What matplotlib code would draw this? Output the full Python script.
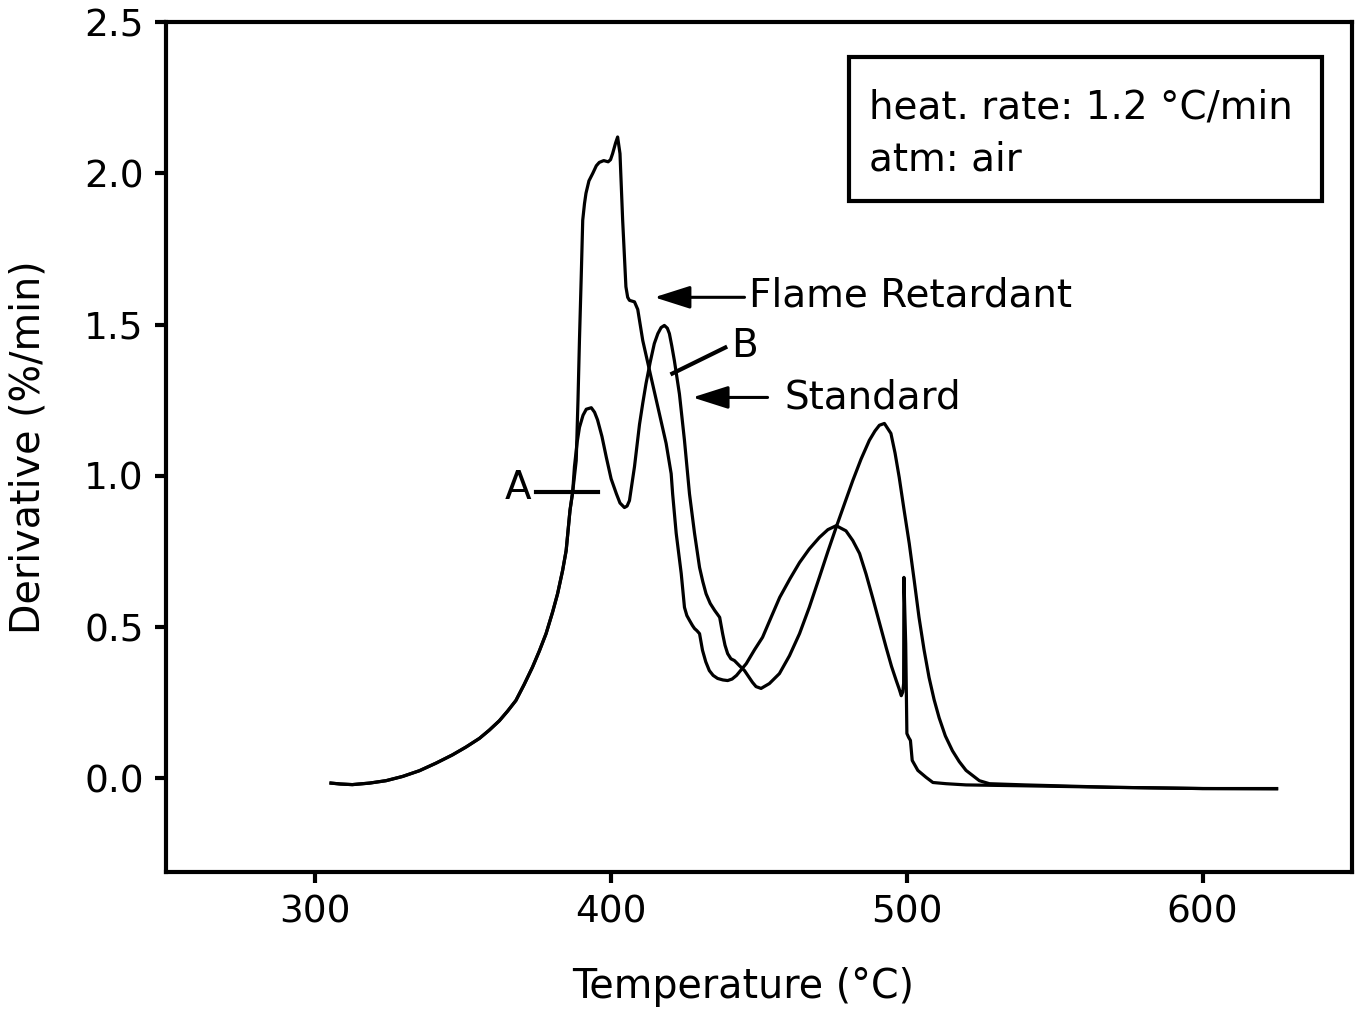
import matplotlib as mpl
mpl.use('Agg')
import matplotlib.pyplot as plt
from matplotlib.patches import Rectangle

# shared rising edge (both samples overlap up to ~387 C)
t_shared = [305.3, 308.5, 312.5, 318.3, 323.9, 329.5, 335.2, 340.8, 346.3, 350.9,
            355.5, 358.8, 362.2, 365.0, 367.8, 370.6, 373.4, 375.7, 378.0, 380.2,
            381.9, 383.6, 384.8, 386.1, 387.0]
d_shared = [-0.016, -0.019, -0.021, -0.016, -0.008, 0.006, 0.025, 0.05, 0.077, 0.103,
            0.132, 0.159, 0.19, 0.222, 0.257, 0.31, 0.367, 0.42, 0.478, 0.549,
            0.61, 0.687, 0.753, 0.886, 0.946]

# flame retardant sample
t_fr = [388.2, 388.8, 389.3, 389.9, 390.4, 391.0, 391.5, 392.5, 393.8, 395.0,
        396.0, 397.5, 399.0, 399.8, 400.5, 401.5, 402.2, 403.0, 403.9, 405.0,
        405.6, 406.2, 407.9, 409.0, 410.7, 413.5, 416.3, 418.6, 420.3, 420.8,
        422.0, 423.7, 424.8, 425.6, 426.5, 427.5, 428.2, 429.0, 429.9, 430.9,
        432.0, 433.2, 434.5, 436.0, 437.8, 439.4, 440.9, 442.4, 445.7, 448.5,
        451.2, 454.0, 457.0, 460.5, 463.7, 467.0, 470.4, 473.3, 476.1, 479.4,
        481.7, 484.0, 486.2, 488.4, 490.7, 493.0, 494.8, 496.4, 497.4, 498.1,
        498.6, 498.9, 499.0, 499.3, 499.6, 500.0, 500.6, 501.2, 501.8, 503.7,
        506.5, 508.8, 513.3, 520.0, 540.0, 570.0, 600.0, 625.0]
d_fr = [1.05, 1.25, 1.45, 1.66, 1.845, 1.9, 1.934, 1.975, 2.0, 2.025,
        2.036, 2.042, 2.038, 2.045, 2.065, 2.10, 2.12, 2.065, 1.845, 1.625,
        1.59, 1.58, 1.575, 1.55, 1.447, 1.326, 1.206, 1.107, 1.007, 0.94,
        0.81, 0.677, 0.565, 0.538, 0.522, 0.505, 0.495, 0.488, 0.478, 0.423,
        0.385, 0.356, 0.34, 0.33, 0.325, 0.323, 0.328, 0.34, 0.379, 0.425,
        0.466, 0.53, 0.598, 0.66, 0.713, 0.758, 0.796, 0.822, 0.835, 0.818,
        0.786, 0.743, 0.675, 0.598, 0.515, 0.432, 0.37, 0.323, 0.295, 0.273,
        0.285, 0.313, 0.664, 0.55, 0.445, 0.148, 0.135, 0.125, 0.059, 0.026,
        0.003, -0.014, -0.018, -0.022, -0.025, -0.03, -0.034, -0.034]

# standard sample
t_std = [387.6, 388.5, 389.3, 390.5, 391.6, 393.3, 394.4, 395.4, 396.9, 398.4,
         400.0, 401.8, 403.0, 404.5, 405.4, 406.2, 407.9, 409.6, 410.7, 411.8,
         413.2, 414.6, 415.8, 416.9, 418.0, 419.0, 419.7, 420.5, 421.4, 423.1,
         424.8, 426.5, 428.2, 429.9, 431.0, 432.1, 433.5, 435.0, 436.7, 437.7,
         438.5, 439.4, 440.5, 441.7, 443.4, 445.1, 447.8, 449.0, 450.7, 453.5,
         456.9, 460.3, 463.7, 467.0, 470.4, 473.3, 476.1, 479.0, 481.7, 484.5,
         487.3, 489.2, 490.7, 492.4, 494.6, 496.0, 497.4, 499.0, 500.8, 502.5,
         504.1, 505.8, 507.5, 509.2, 510.9, 513.0, 515.4, 517.7, 520.0, 524.5,
         527.9, 540.0, 570.0, 600.0, 625.0]
d_std = [1.03, 1.11, 1.16, 1.20, 1.22, 1.225, 1.21, 1.185, 1.13, 1.06,
         0.99, 0.94, 0.91, 0.895, 0.9, 0.918, 1.03, 1.17, 1.24, 1.305,
         1.375, 1.437, 1.47, 1.49, 1.497, 1.488, 1.47, 1.43, 1.38, 1.27,
         1.117, 0.94, 0.81, 0.697, 0.65, 0.61, 0.578, 0.555, 0.532, 0.478,
         0.44, 0.412, 0.395, 0.389, 0.372, 0.356, 0.317, 0.303, 0.297, 0.313,
         0.346, 0.405, 0.478, 0.565, 0.664, 0.75, 0.83, 0.91, 0.984, 1.055,
         1.117, 1.148, 1.167, 1.173, 1.14, 1.075, 0.995, 0.89, 0.776, 0.652,
         0.532, 0.425, 0.333, 0.26, 0.2, 0.14, 0.091, 0.055, 0.026, -0.008,
         -0.018, -0.022, -0.03, -0.034, -0.035]

plt.rcParams['font.family'] = ['DejaVu Sans']

fig = plt.figure(figsize=(13.55, 10.16), dpi=100)
ax = fig.add_axes([0.1225, 0.1417, 0.8753, 0.8366])

lw = 2.3
ax.plot(t_shared + t_fr, d_shared + d_fr, color='k', lw=lw, solid_joinstyle='round')
ax.plot(t_shared + t_std, d_shared + d_std, color='k', lw=lw, solid_joinstyle='round')

ax.set_xlim(249.5, 650.5)
ax.set_ylim(-0.31, 2.5)
ax.set_xticks([300, 400, 500, 600])
ax.set_yticks([0.0, 0.5, 1.0, 1.5, 2.0, 2.5])
ax.set_yticklabels(['0.0', '0.5', '1.0', '1.5', '2.0', '2.5'])
ax.tick_params(direction='out', length=8, width=3, labelsize=27, pad=8)
for s in ax.spines.values():
    s.set_linewidth(3)

ax.set_xlabel('Temperature (°C)', fontsize=28.5)
ax.xaxis.set_label_coords(0.487, -0.112)
ax.set_ylabel('Derivative (%/min)', fontsize=28.5, labelpad=26)

# info box
ax.add_patch(Rectangle((0.576, 0.789), 0.399, 0.170, transform=ax.transAxes,
                       fill=False, lw=3, color='k'))
ax.text(0.593, 0.899, 'heat. rate: 1.2 °C/min', transform=ax.transAxes,
        fontsize=28, va='center', ha='left')
ax.text(0.593, 0.838, 'atm: air', transform=ax.transAxes,
        fontsize=28, va='center', ha='left')

# annotations
arr = dict(arrowstyle='-|>,head_length=1.1,head_width=0.35', mutation_scale=20,
           lw=2.2, color='k', shrinkA=0, shrinkB=0)
ax.annotate('', xy=(414.6, 1.59), xytext=(445.1, 1.59), arrowprops=arr)
ax.text(446.6, 1.595, 'Flame Retardant', fontsize=28, va='center', ha='left')
ax.annotate('', xy=(427.5, 1.259), xytext=(452.9, 1.259), arrowprops=arr)
ax.text(458.6, 1.259, 'Standard', fontsize=28, va='center', ha='left')

ax.plot([420.7, 438.6], [1.338, 1.424], color='k', lw=3)
ax.text(440.6, 1.43, 'B', fontsize=28, va='center', ha='left')
ax.plot([374.7, 395.4], [0.945, 0.945], color='k', lw=3)
ax.text(373.0, 0.96, 'A', fontsize=28, va='center', ha='right')

plt.savefig('out.png', dpi=100)
plt.close('all')
